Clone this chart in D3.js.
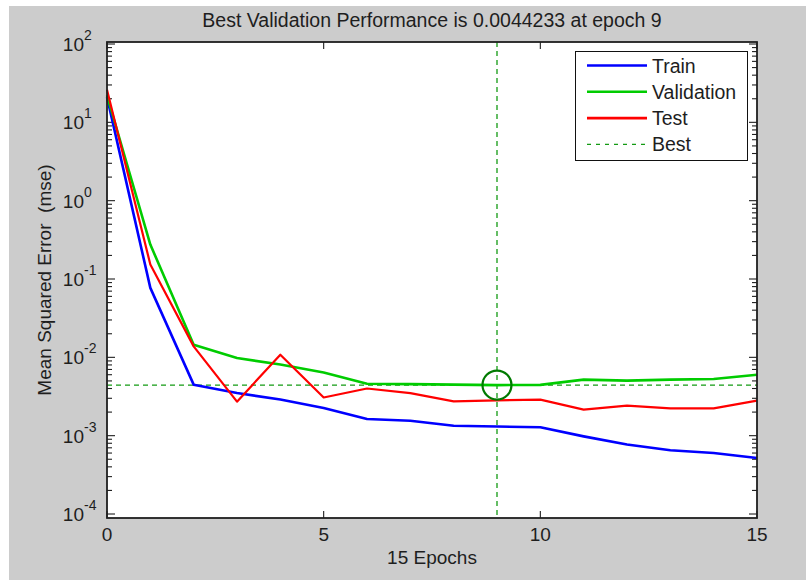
<!DOCTYPE html>
<html>
<head>
<meta charset="utf-8">
<script src="https://cdn.jsdelivr.net/npm/d3@7"></script>
<style>
  body { margin: 0; background: #fff; }
  text { font-family: "Liberation Sans", Arial, sans-serif; fill: #1e1e1e; }
</style>
</head>
<body>
<div id="chart"></div>
<script>
// epochs 0..15
var epochs = d3.range(0, 16);
var train = [21, 0.077, 0.00448, 0.0035, 0.0029, 0.00225, 0.00163, 0.00155, 0.00134, 0.00131, 0.00128, 0.00098, 0.00077, 0.00065, 0.0006, 0.00052];
var validation = [22, 0.275, 0.0145, 0.0098, 0.0081, 0.0064, 0.0046, 0.00455, 0.00448, 0.0044233, 0.00445, 0.00519, 0.00504, 0.0052, 0.0053, 0.006];
var test = [26, 0.153, 0.0138, 0.00272, 0.0108, 0.00307, 0.004, 0.0035, 0.00274, 0.00282, 0.00288, 0.00215, 0.00242, 0.00223, 0.00223, 0.0028];
var bestEpoch = 9, bestValue = 0.0044233;
var xTicks = [0, 5, 10, 15];
var yDecades = [-4, -3, -2, -1, 0, 1, 2];
var legendNames = ["Train", "Validation", "Test", "Best"];

var width = 806, height = 580;
var pl = 107, pr = 757, pt = 42, pb = 518;

var svg = d3.select("#chart").append("svg")
    .attr("width", width)
    .attr("height", height)

// figure background
svg.append("rect").attr("x", 9).attr("y", 6).attr("width", width - 9).attr("height", height - 6).attr("fill", "#cccccc")
svg.append("rect").attr("x", pl).attr("y", pt).attr("width", pr - pl).attr("height", pb - pt).attr("fill", "#fff")

var x = d3.scaleLinear().domain([0, 15]).range([pl, pr])
var y = d3.scaleLog().domain([Math.pow(10, -4.051), Math.pow(10, 2.0255)]).range([pb, pt])

var ink = "#1f1f1f";
var ticks = svg.append("g").attr("stroke", ink).attr("stroke-width", 1.1)

// x ticks, bottom and top, pointing inward
xTicks.forEach(function(t) {
    ticks.append("line").attr("x1", x(t)).attr("x2", x(t)).attr("y1", pb).attr("y2", pb - 7)
    ticks.append("line").attr("x1", x(t)).attr("x2", x(t)).attr("y1", pt).attr("y2", pt + 7)
    svg.append("text").attr("x", x(t)).attr("y", pb + 23).attr("text-anchor", "middle")
        .style("font-size", "19px").text(t)
})

// y ticks (log, major + minor) left and right
yDecades.forEach(function(k) {
    var v = Math.pow(10, k)
    ticks.append("line").attr("x1", pl).attr("x2", pl + 8).attr("y1", y(v)).attr("y2", y(v))
    ticks.append("line").attr("x1", pr).attr("x2", pr - 8).attr("y1", y(v)).attr("y2", y(v))
    if (k < 2) {
        for (var m = 2; m <= 9; m++) {
            var mv = m * v
            ticks.append("line").attr("x1", pl).attr("x2", pl + 5).attr("y1", y(mv)).attr("y2", y(mv))
            ticks.append("line").attr("x1", pr).attr("x2", pr - 5).attr("y1", y(mv)).attr("y2", y(mv))
        }
    }
    svg.append("text").attr("x", 84).attr("y", y(v) + 7).attr("text-anchor", "end")
        .style("font-size", "19px").text("10")
    svg.append("text").attr("x", 84).attr("y", y(v) - 4).style("font-size", "14px").text(k)
})

// best lines
var bestColor = "#139a13";
svg.append("line").attr("x1", pl).attr("x2", pr).attr("y1", y(bestValue)).attr("y2", y(bestValue))
    .attr("stroke", bestColor).attr("stroke-width", 1.3).attr("stroke-dasharray", "5,4")
svg.append("line").attr("x1", x(bestEpoch)).attr("x2", x(bestEpoch)).attr("y1", pt).attr("y2", pb)
    .attr("stroke", bestColor).attr("stroke-width", 1.3).attr("stroke-dasharray", "5,4")

var line = d3.line()
    .x(function(d, i) { return x(epochs[i]) })
    .y(function(d) { return y(d) })

var series = [
    {name: "Train", values: train, color: "#0000ff", w: 2.6},
    {name: "Validation", values: validation, color: "#00cc00", w: 2.6},
    {name: "Test", values: test, color: "#ff0000", w: 2.2}
]
series.forEach(function(s) {
    svg.append("path").datum(s.values).attr("d", line)
        .attr("fill", "none").attr("stroke", s.color).attr("stroke-width", s.w)
        .attr("stroke-linejoin", "round")
})

// best marker
svg.append("circle").attr("cx", x(bestEpoch)).attr("cy", y(bestValue)).attr("r", 14.5)
    .attr("fill", "none").attr("stroke", "#007a00").attr("stroke-width", 2.2)

// axes box
svg.append("rect").attr("x", pl).attr("y", pt).attr("width", pr - pl).attr("height", pb - pt)
    .attr("fill", "none").attr("stroke", ink).attr("stroke-width", 1.8)

// legend
var lg = svg.append("g")
lg.append("rect").attr("x", 575.5).attr("y", 51.5).attr("width", 172).attr("height", 109)
    .attr("fill", "#fff").attr("stroke", "#111").attr("stroke-width", 1)
var legendColors = ["#0000ff", "#00cc00", "#ff0000", bestColor]
legendNames.forEach(function(n, i) {
    var ly = 65.5 + i * 26.3
    lg.append("line").attr("x1", 587).attr("x2", 647).attr("y1", ly).attr("y2", ly)
        .attr("stroke", legendColors[i]).attr("stroke-width", i == 3 ? 1.3 : 2.6)
        .attr("stroke-dasharray", i == 3 ? "4,5" : null)
    lg.append("text").attr("x", 652).attr("y", ly + 7).style("font-size", "19.5px").text(n)
})

// title and axis labels
svg.append("text").attr("x", (pl + pr) / 2).attr("y", 27).attr("text-anchor", "middle")
    .style("font-size", "19.5px").text("Best Validation Performance is 0.0044233 at epoch 9")
svg.append("text").attr("x", (pl + pr) / 2).attr("y", 564).attr("text-anchor", "middle")
    .style("font-size", "19px").text("15 Epochs")
svg.append("text").attr("transform", "translate(51," + ((pt + pb) / 2) + ") rotate(-90)")
    .attr("text-anchor", "middle").style("font-size", "19px").style("white-space", "pre")
    .text("Mean Squared Error  (mse)")
</script>
</body>
</html>
